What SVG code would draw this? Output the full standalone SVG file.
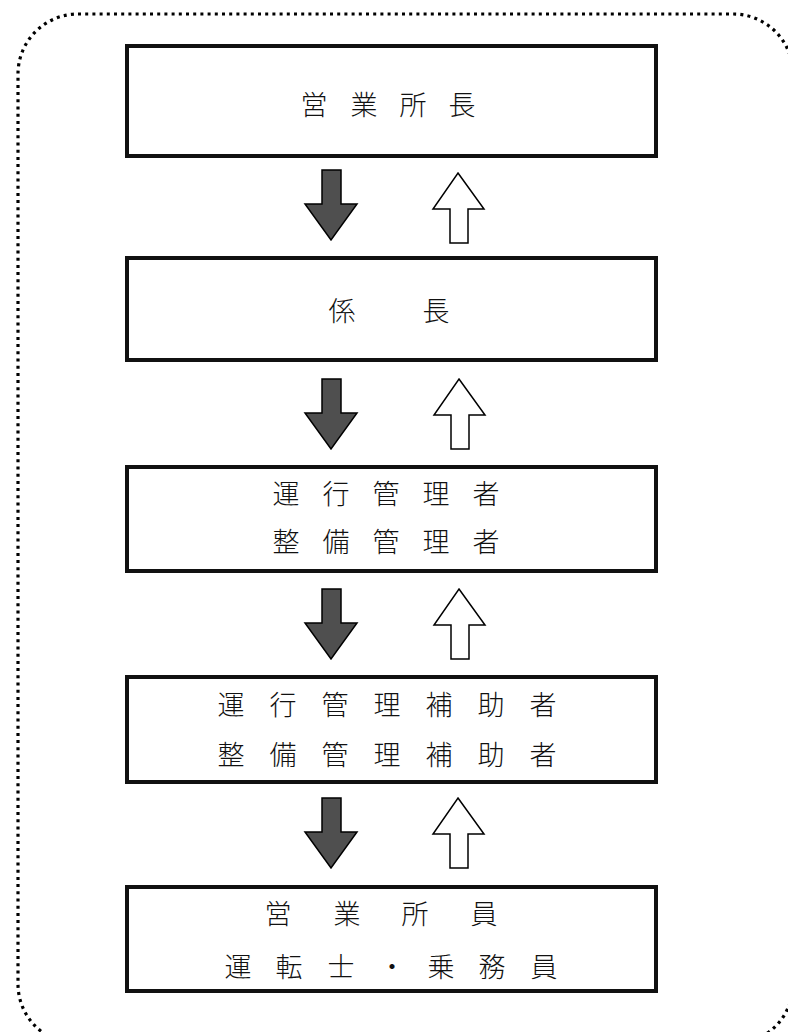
<svg xmlns="http://www.w3.org/2000/svg" width="788" height="1032" viewBox="0 0 788 1032">
<style>
.frame{fill:none;stroke:#000;stroke-width:3.2;stroke-dasharray:3 4.2}
.box{fill:#fff;stroke:#111;stroke-width:4}
.t{font-family:"Noto Sans CJK JP","Noto Sans CJK SC",sans-serif;font-size:27px;font-weight:300;fill:#111;text-anchor:middle;dominant-baseline:central}
.down{fill:#4f4f4f;stroke:#000;stroke-width:1.5;stroke-linejoin:miter}
.up{fill:#fff;stroke:#000;stroke-width:1.5;stroke-linejoin:miter}
</style>
<defs>
<polygon id="dn" class="down" points="0,0 19,0 19,34 35,34 9,70 -17,34 0,34"/>
<polygon id="upa" class="up" points="8,0 34,36 18,36 18,70 0,70 0,36 -17,36"/>
</defs>
<rect width="788" height="1032" fill="#fff"/>
<rect class="frame" x="18" y="14" width="775" height="1030" rx="60" ry="60"/>
<g id="connectors">
<use href="#dn" x="322" y="170"/>
<use href="#upa" x="450" y="173"/>
<use href="#dn" x="322" y="379"/>
<use href="#upa" x="451" y="379"/>
<use href="#dn" x="322" y="589"/>
<use href="#upa" x="451" y="589"/>
<use href="#dn" x="322" y="798"/>
<use href="#upa" x="450" y="798"/>
</g>
<g id="node1">
<rect class="box" x="127" y="46" width="529" height="110"/>
<text class="t" x="314 364 413 462" y="103">営業所長</text>
</g>
<g id="node2">
<rect class="box" x="127" y="258" width="529" height="102"/>
<text class="t" x="342 436" y="309">係長</text>
</g>
<g id="node3">
<rect class="box" x="127" y="467" width="529" height="104"/>
<text class="t" x="286 336 386 436 486" y="492">運行管理者</text>
<text class="t" x="286 336 386 436 486" y="540">整備管理者</text>
</g>
<g id="node4">
<rect class="box" x="127" y="677" width="529" height="105"/>
<text class="t" x="231 283 335 387 439 491 543" y="703">運行管理補助者</text>
<text class="t" x="231 283 335 387 439 491 543" y="753">整備管理補助者</text>
</g>
<g id="node5">
<rect class="box" x="127" y="887" width="529" height="104"/>
<text class="t" x="278 347 415 484" y="912">営業所員</text>
<text class="t" x="238 289 341 392 441 492 544" y="965">運転士・乗務員</text>
</g>
</svg>
